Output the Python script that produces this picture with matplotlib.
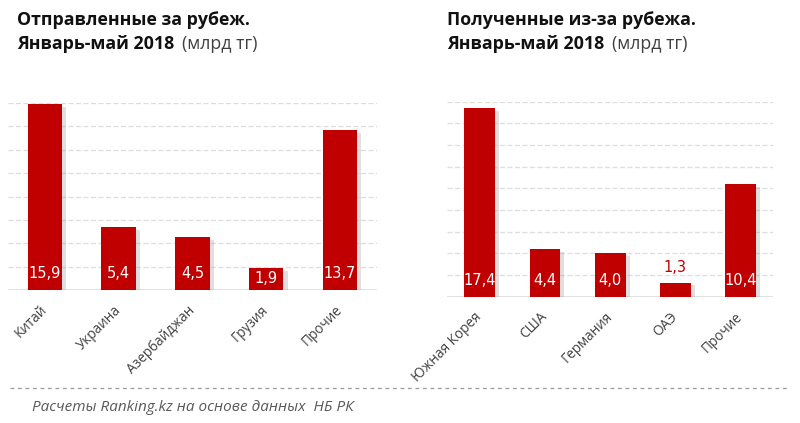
import matplotlib.pyplot as plt
import matplotlib.patheffects as pe

plt.rcParams['font.family'] = ['Open Sans', 'DejaVu Sans']

# data
sent_labels = ["Китай", "Украина", "Азербайджан", "Грузия", "Прочие"]
sent_values = [15.9, 5.4, 4.5, 1.9, 13.7]
recv_labels = ["Южная Корея", "США", "Германия", "ОАЭ", "Прочие"]
recv_values = [17.4, 4.4, 4.0, 1.3, 10.4]

red = "#C00000"
grid_col = "#DDDDDD"
text_col = "#404040"

fig = plt.figure(figsize=(8, 4.23), dpi=100)


def draw(ax, labels, values, ymax, inside_pos, small_outside):
    x = list(range(len(values)))
    bars = ax.bar(x, values, width=0.47, color=red, zorder=3)
    for b in bars:
        b.set_path_effects([pe.SimplePatchShadow(offset=(3, -2), shadow_rgbFace="#999999", alpha=0.3),
                            pe.Normal()])
    ax.set_xlim(-0.5, len(values) - 0.5)
    ax.set_ylim(0, ymax)
    for yv in range(2, ymax + 1, 2):
        ax.axhline(yv, color=grid_col, lw=0.9, ls=(0, (4, 2)), zorder=1)
    ax.axhline(0, color=grid_col, lw=1.2, zorder=2)
    for i, v in enumerate(values):
        txt = f"{v:.1f}".replace(".", ",")
        if small_outside and v < 1.5:
            ax.text(i, v + 1.35, txt, color=red, ha="center", va="center",
                    fontsize=10.5, family="DejaVu Sans", zorder=4)
        else:
            ax.text(i, min(inside_pos, v / 2), txt, color="white", ha="center", va="center",
                    fontsize=10.5, family="DejaVu Sans", zorder=4)
    ax.set_xticks(x)
    ax.set_xticklabels(labels, rotation=45, ha="right", va="center",
                       rotation_mode="anchor", fontsize=9.8, color=text_col)
    ax.tick_params(axis="x", length=0, pad=13)
    ax.set_yticks([])
    for s in ax.spines.values():
        s.set_visible(False)


ax1 = fig.add_axes([0.01, 0.3144, 0.461, 0.442])
draw(ax1, sent_labels, sent_values, 16, 1.38, False)

ax2 = fig.add_axes([0.559, 0.2986, 0.4075, 0.461])
draw(ax2, recv_labels, recv_values, 18, 1.54, True)

# titles
fs = 12.8
fig.text(17 / 800, 1 - 20 / 423, "Отправленные за рубеж.", fontsize=fs, fontweight="bold",
         color="#111111", va="center", ha="left")
fig.text(17 / 800, 1 - 44 / 423, "Январь-май 2018", fontsize=fs, fontweight="bold",
         color="#111111", va="center", ha="left")
fig.text(182 / 800, 1 - 44 / 423, "(млрд тг)", fontsize=fs, color=text_col, va="center", ha="left")

fig.text(447 / 800, 1 - 20 / 423, "Полученные из-за рубежа.", fontsize=fs, fontweight="bold",
         color="#111111", va="center", ha="left")
fig.text(447 / 800, 1 - 44 / 423, "Январь-май 2018", fontsize=fs, fontweight="bold",
         color="#111111", va="center", ha="left")
fig.text(612 / 800, 1 - 44 / 423, "(млрд тг)", fontsize=fs, color=text_col, va="center", ha="left")

# footer
fig.add_artist(plt.Line2D([10 / 800, 790 / 800], [1 - 388 / 423, 1 - 388 / 423],
                          color="#999999", lw=0.9, ls=(0, (3, 3))))
fig.text(32 / 800, 1 - 407 / 423, "Расчеты Ranking.kz на основе данных  НБ РК", fontsize=11,
         style="italic", color="#595959", va="center", ha="left")

fig.savefig("out.png", dpi=100)
